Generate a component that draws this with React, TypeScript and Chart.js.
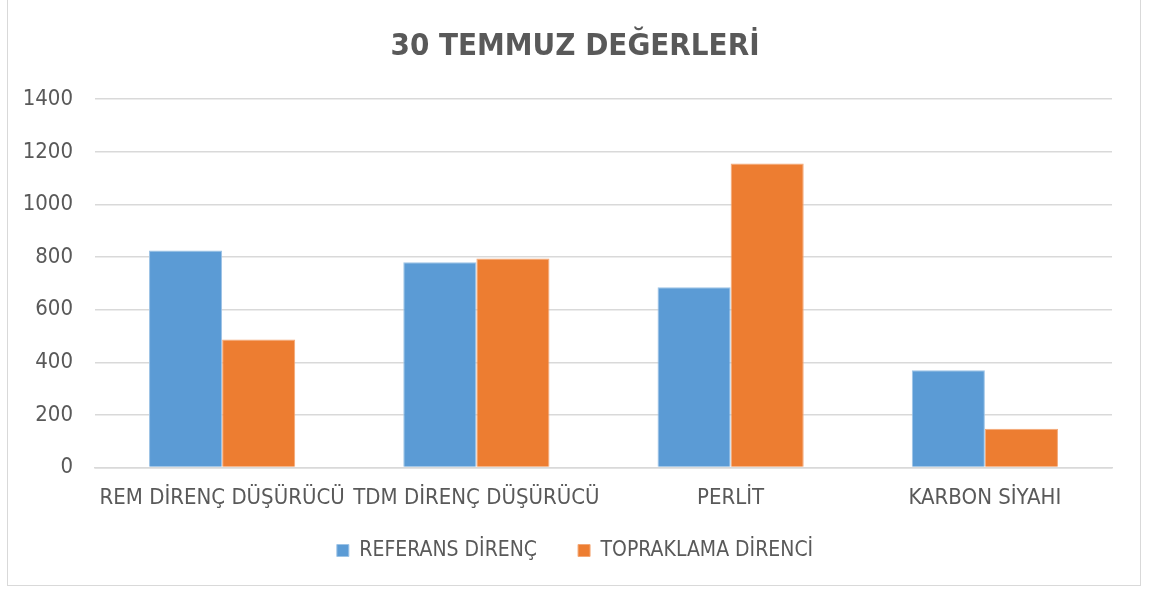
import React, { useEffect, useRef } from "react";
import { Chart, registerables } from "chart.js";

Chart.register(...registerables);

const categories = ["REM DİRENÇ DÜŞÜRÜCÜ", "TDM DİRENÇ DÜŞÜRÜCÜ", "PERLİT", "KARBON SİYAHI"];
const referansValues = [825, 780, 685, 370];
const topraklamaValues = [487, 795, 1156, 148];
const seriesNames = ["REFERANS DİRENÇ", "TOPRAKLAMA DİRENCİ"];
const titleText = "30 TEMMUZ DEĞERLERİ";

const FONT = "'Liberation Sans Narrow', 'DejaVu Sans Condensed', 'Open Sans', sans-serif";

export default function App() {
  const ref = useRef<HTMLCanvasElement | null>(null);
  useEffect(() => {
    if (!ref.current) return;
    const chart = new Chart(ref.current, {
      type: "bar",
      data: {
        labels: categories,
        datasets: [
          {
            label: seriesNames[0],
            data: referansValues,
            backgroundColor: "#5b9bd5",
            borderColor: "#9cc3e6",
            borderWidth: 1,
            yAxisID: "y",
          },
          {
            label: seriesNames[1],
            data: topraklamaValues,
            backgroundColor: "#ed7d31",
            borderColor: "#f4a877",
            borderWidth: 1,
            yAxisID: "y",
          },
        ],
      },
      options: {
        animation: false,
        responsive: false,
        maintainAspectRatio: false,
        layout: { padding: { left: 0, right: 0, top: 24, bottom: 21 } },
        datasets: { bar: { categoryPercentage: 0.575, barPercentage: 1 } },
        plugins: {
          title: {
            display: true,
            text: titleText,
            color: "#595959",
            font: { family: FONT, size: 31, weight: "bold" },
            padding: { top: 4, bottom: 34 },
          },
          legend: {
            position: "bottom",
            labels: {
              color: "#595959",
              font: { family: FONT, size: 21 },
              boxWidth: 12,
              boxHeight: 12,
              padding: 41,
            },
          },
          tooltip: { enabled: false },
        },
        scales: {
          x: {
            grid: { display: false, drawTicks: false },
            border: { color: "#d9d9d9", width: 1.5 },
            ticks: {
              color: "#595959",
              font: { family: FONT, size: 22 },
              padding: 17,
              maxRotation: 0,
              autoSkip: false,
            },
            afterFit: (s: any) => {
              s.height = s.height - 29;
              s._computeLabelArea = () => undefined;
            },
          },
          y: {
            min: 0,
            max: 1400,
            grid: { color: "#d9d9d9", lineWidth: 1.5, drawTicks: false },
            border: { display: false },
            ticks: {
              stepSize: 200,
              color: "#595959",
              font: { family: FONT, size: 22 },
              padding: 22,
              callback: (v: any) => String(v),
            },
            afterFit: (s: any) => {
              s.width = 95;
            },
          },
          yRight: {
            type: "linear",
            position: "right",
            min: 0,
            max: 1400,
            grid: { display: false, drawTicks: false },
            border: { display: false },
            ticks: { display: false },
            afterFit: (s: any) => {
              s.width = 38;
            },
          },
        },
      },
    });
    return () => chart.destroy();
  }, []);
  return (
    <>
      <div style={{ position: "fixed", left: 0, top: 0, width: 1150, height: 592, background: "#fff" }}>
        <canvas ref={ref} width={1150} height={592} style={{ display: "block" }} />
      </div>
      <div
        style={{
          position: "fixed",
          left: 7,
          top: -1,
          width: 1134,
          height: 587,
          boxSizing: "border-box",
          border: "1.5px solid #d9d9d9",
          pointerEvents: "none",
        }}
      />
    </>
  );
}
